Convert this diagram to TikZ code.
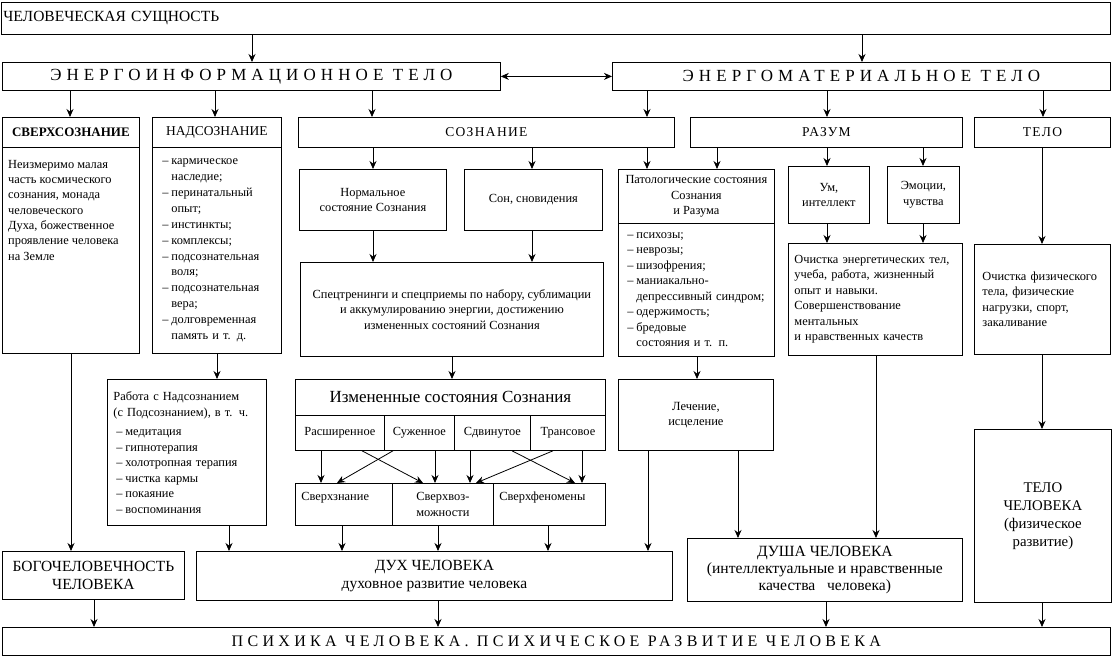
\documentclass[tikz,border=0pt]{standalone}
\usepackage{fontspec}
\setmainfont{Liberation Serif}
\newfontfamily\widefont[LetterSpace=30]{Liberation Serif}
\newfontfamily\psyfont[LetterSpace=27]{Liberation Serif}
\newfontfamily\capfont[LetterSpace=10]{Liberation Serif}
\usetikzlibrary{arrows.meta,positioning}
\newcommand\dsh{\makebox[9pt][l]{–}}
\newcommand\ind{\hspace*{9pt}}

\begin{document}
\begin{tikzpicture}[x=1pt,y=-1pt]
    \tikzstyle{blk}=[draw, line width=0.8pt, anchor=north west, inner sep=0pt,
      align=center, font=\fontsize{12.4}{15.5}\selectfont]
    \tikzstyle{big}=[font=\fontsize{15.5}{18}\selectfont]
    \tikzstyle{arr}=[-{Stealth[length=8pt,width=7pt]}, line width=0.8pt]
    \useasboundingbox (0,0) rectangle (1112,658);

    % top levels
    \node[blk, big, minimum width=1109, minimum height=32, text width=1105, align=left]
      (top) at (1,2) {ЧЕЛОВЕЧЕСКАЯ СУЩНОСТЬ};
    \node[blk, minimum width=498, minimum height=28, font=\widefont\fontsize{17}{18}\selectfont]
      (eit) at (2,62) {ЭНЕРГОИНФОРМАЦИОННОЕ ТЕЛО};
    \node[blk, minimum width=498, minimum height=28, font=\widefont\fontsize{17}{18}\selectfont]
      (emt) at (612,62) {ЭНЕРГОМАТЕРИАЛЬНОЕ ТЕЛО};

    % third row
    \node[blk, minimum width=137, minimum height=30, font=\bfseries\fontsize{13}{15}\selectfont]
      (sverhH) at (2,117) {СВЕРХСОЗНАНИЕ};
    \node[blk, minimum width=129, minimum height=30, font=\fontsize{13.5}{15}\selectfont]
      (nadH) at (152,117) {НАДСОЗНАНИЕ};
    \node[blk, minimum width=376, minimum height=30, font=\capfont\fontsize{13.5}{15}\selectfont]
      (soz) at (298,117) {СОЗНАНИЕ};
    \node[blk, minimum width=272, minimum height=30, font=\capfont\fontsize{13.5}{15}\selectfont]
      (razum) at (690,117) {РАЗУМ};
    \node[blk, minimum width=136, minimum height=30, font=\capfont\fontsize{13.5}{15}\selectfont]
      (telo) at (974,117) {ТЕЛО};

    \node[blk, minimum width=137, minimum height=206] (sverhB) at (2,147) {};
    \node[anchor=north west, inner sep=0pt, align=left, font=\fontsize{12.4}{15.3}\selectfont]
      (sverhT) at ([xshift=6pt,yshift=-13pt]sverhB.north west)
      {Неизмеримо малая\\часть космического\\сознания, монада\\человеческого\\Духа, божественное\\проявление человека\\на Земле};
    \node[blk, minimum width=129, minimum height=206, text width=109, align=left, font=\fontsize{12.4}{15.9}\selectfont]
      (nadB) at (152,147)
      {\dsh кармическое\\\ind наследие;\\\dsh перинатальный\\\ind опыт;\\\dsh инстинкты;\\\dsh комплексы;\\\dsh подсознательная\\\ind воля;\\\dsh подсознательная\\\ind вера;\\\dsh долговременная\\\ind память и т. д.};

    % consciousness and mind
    \node[blk, minimum width=147, minimum height=61] (norm) at (299,169) {Нормальное\\состояние Сознания};
    \node[blk, minimum width=138, minimum height=61] (son) at (464,169) {Сон, сновидения};
    \node[blk, minimum width=156, minimum height=54] (patH) at (618,169) {Патологические состояния\\Сознания\\и Разума};
    \node[blk, minimum width=156, minimum height=133, text width=138, align=left] (patB) at (618,223)
      {\dsh психозы;\\\dsh неврозы;\\\dsh шизофрения;\\\dsh маниакально-\\\ind депрессивный синдром;\\\dsh одержимость;\\\dsh бредовые\\\ind состояния и т. п.};
    \node[blk, minimum width=81, minimum height=57] (um) at (788,166) {Ум,\\интеллект};
    \node[blk, minimum width=72, minimum height=57] (emo) at (887,166) {Эмоции,\\чувства};

    \node[blk, minimum width=303, minimum height=94] (spec) at (300,262)
      {Спецтренинги и спецприемы по набору, сублимации\\и аккумулированию энергии, достижению\\измененных состояний Сознания};
    \node[blk, minimum width=174, minimum height=112, text width=162, align=left] (ochE) at (788,243)
      {Очистка энергетических тел,\\учеба, работа, жизненный\\опыт и навыки.\\Совершенствование\\ментальных\\и нравственных качеств};
    \node[blk, minimum width=136, minimum height=110, text width=120, align=left] (ochF) at (974,244)
      {Очистка физического\\тела, физические\\нагрузки, спорт,\\закаливание};

    % work and altered states
    \node[blk, minimum width=159, minimum height=146, text width=147, align=left] (rab) at (107,379)
      {Работа с Надсознанием\\(с Подсознанием), в т. ч.\\[4pt]
       \hspace*{3pt}\dsh медитация\\\hspace*{3pt}\dsh гипнотерапия\\\hspace*{3pt}\dsh холотропная терапия\\
       \hspace*{3pt}\dsh чистка кармы\\\hspace*{3pt}\dsh покаяние\\\hspace*{3pt}\dsh воспоминания};
    \node[blk, minimum width=310, minimum height=36, font=\fontsize{17}{18}\selectfont] (izmH) at (295,379)
      {Измененные состояния Сознания};
    \node[blk, minimum width=89, minimum height=35] (c1) at (295,415) {Расширенное};
    \node[blk, minimum width=70, minimum height=35] (c2) at (384,415) {Суженное};
    \node[blk, minimum width=76, minimum height=35] (c3) at (454,415) {Сдвинутое};
    \node[blk, minimum width=75, minimum height=35] (c4) at (530,415) {Трансовое};
    \node[blk, minimum width=155, minimum height=71, font=\fontsize{12.5}{15}\selectfont] (lech) at (618,379)
      {Лечение,\\исцеление};

    \node[blk, minimum width=97, minimum height=42, text width=85, align=left] (sz) at (295,483)
      {Сверхзнание\\\phantom{x}};
    \node[blk, minimum width=101, minimum height=42] (sv) at (392,483) {Сверхвоз-\\можности};
    \node[blk, minimum width=112, minimum height=42, text width=100, align=left] (sf) at (493,483)
      {Сверхфеномены\\\phantom{x}};

    % results
    \node[blk, big, minimum width=182, minimum height=48] (bogo) at (2,551) {БОГОЧЕЛОВЕЧНОСТЬ\\ЧЕЛОВЕКА};
    \node[blk, big, minimum width=476, minimum height=49] (duh) at (196,551)
      {ДУХ ЧЕЛОВЕКА\\духовное развитие человека};
    \node[blk, minimum width=275, minimum height=63, font=\fontsize{15.6}{17}\selectfont] (dusha) at (687,538)
      {ДУША ЧЕЛОВЕКА\\(интеллектуальные и нравственные\\качества \ \ человека)};
    \node[blk, minimum width=137, minimum height=173, font=\fontsize{14.8}{18}\selectfont] (teloCh) at (974,429)
      {ТЕЛО\\ЧЕЛОВЕКА\\(физическое\\развитие)};
    \node[blk, minimum width=1108, minimum height=28, font=\psyfont\fontsize{16}{18}\selectfont] (psy) at (2,627)
      {ПСИХИКА ЧЕЛОВЕКА. ПСИХИЧЕСКОЕ РАЗВИТИЕ ЧЕЛОВЕКА};

    % connectors
    \draw[arr] (top.south -| 252,0) -- (eit.north -| 252,0);
    \draw[arr] (top.south -| 862,0) -- (emt.north -| 862,0);
    \draw[{Stealth[length=8pt,width=7pt]}-{Stealth[length=8pt,width=7pt]}, line width=0.8pt] (eit) -- (emt);
    \draw[arr] (eit.south -| 70,0) -- (sverhH.north -| 70,0);
    \draw[arr] (eit.south -| 215,0) -- (nadH.north -| 215,0);
    \draw[arr] (eit.south -| 372,0) -- (soz.north -| 372,0);
    \draw[arr] (emt.south -| 647,0) -- (soz.north -| 647,0);
    \draw[arr] (emt.south -| 827,0) -- (razum.north -| 827,0);
    \draw[arr] (emt.south -| 1043,0) -- (telo.north -| 1043,0);

    \draw[arr] (soz.south -| 373,0) -- (norm.north -| 373,0);
    \draw[arr] (soz.south -| 532,0) -- (son.north -| 532,0);
    \draw[arr] (soz.south -| 647,0) -- (patH.north -| 647,0);
    \draw[arr] (razum.south -| 717,0) -- (patH.north -| 717,0);
    \draw[arr] (razum.south -| 827,0) -- (um.north -| 827,0);
    \draw[arr] (razum.south -| 923,0) -- (emo.north -| 923,0);
    \draw[arr] (telo.south -| 1042,0) -- (ochF.north -| 1042,0);

    \draw[arr] (norm.south -| 373,0) -- (spec.north -| 373,0);
    \draw[arr] (son.south -| 532,0) -- (spec.north -| 532,0);
    \draw[arr] (um.south -| 827,0) -- (ochE.north -| 827,0);
    \draw[arr] (emo.south -| 923,0) -- (ochE.north -| 923,0);

    \draw[arr] (nadB.south -| 217,0) -- (rab.north -| 217,0);
    \draw[arr] (spec.south -| 452,0) -- (izmH.north -| 452,0);
    \draw[arr] (patB.south -| 697,0) -- (lech.north -| 697,0);

    \draw[arr] (c1.south -| 321,0) -- (sz.north -| 321,0);
    \draw[arr] (c1.south -| 362,0) -- (sv.north -| 423,0);
    \draw[arr] (c2.south -| 393,0) -- (sz.north -| 337,0);
    \draw[arr] (c2.south -| 435,0) -- (sv.north -| 435,0);
    \draw[arr] (c3.south -| 470,0) -- (sv.north -| 470,0);
    \draw[arr] (c3.south -| 512,0) -- (sf.north -| 575,0);
    \draw[arr] (c4.south -| 553,0) -- (sv.north -| 476,0);
    \draw[arr] (c4.south -| 582,0) -- (sf.north -| 582,0);

    \draw[arr] (sverhB.south -| 71,0) -- (bogo.north -| 71,0);
    \draw[arr] (rab.south -| 229,0) -- (duh.north -| 229,0);
    \draw[arr] (sz.south -| 342,0) -- (duh.north -| 342,0);
    \draw[arr] (sv.south -| 438,0) -- (duh.north -| 438,0);
    \draw[arr] (sf.south -| 548,0) -- (duh.north -| 548,0);
    \draw[arr] (lech.south -| 648,0) -- (duh.north -| 648,0);
    \draw[arr] (lech.south -| 738,0) -- (dusha.north -| 738,0);
    \draw[arr] (ochE.south -| 876,0) -- (dusha.north -| 876,0);
    \draw[arr] (ochF.south -| 1042,0) -- (teloCh.north -| 1042,0);

    \draw[arr] (bogo.south -| 94,0) -- (psy.north -| 94,0);
    \draw[arr] (duh.south -| 438,0) -- (psy.north -| 438,0);
    \draw[arr] (dusha.south -| 826,0) -- (psy.north -| 826,0);
    \draw[arr] (teloCh.south -| 1042,0) -- (psy.north -| 1042,0);
\end{tikzpicture}
\end{document}
